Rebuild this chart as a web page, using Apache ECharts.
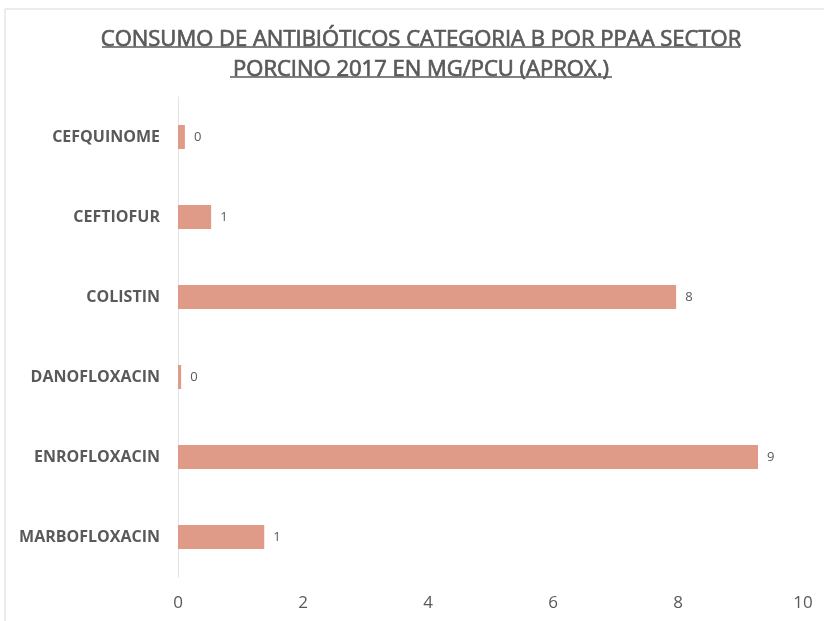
<!DOCTYPE html>
<html>
<head>
<meta charset="utf-8">
<script src="https://cdn.jsdelivr.net/npm/echarts@6/dist/echarts.min.js"></script>
<style>
  html, body { margin: 0; padding: 0; background: #fff; }
  #chart { width: 824px; height: 621px; }
</style>
</head>
<body>
<div id="chart"></div>
<script>
// datos (mg/PCU aprox.)
const categories = ["CEFQUINOME", "CEFTIOFUR", "COLISTIN", "DANOFLOXACIN", "ENROFLOXACIN", "MARBOFLOXACIN"];
const values = [0.11, 0.53, 7.97, 0.05, 9.28, 1.38];
const titleLines = ["CONSUMO DE ANTIBIÓTICOS CATEGORIA B POR PPAA SECTOR", "PORCINO 2017 EN MG/PCU (APROX.)"];

const font = "'Open Sans', sans-serif";
const grey = "#595959";

let chart = echarts.init(document.getElementById("chart"));
let option = {
  backgroundColor: "#fff",
  title: {
    text: titleLines.join("\n"),
    left: 416, // con textAlign center, es el centro del título
    top: 20,
    textAlign: "center",
    textStyle: {
      color: grey,
      fontFamily: font,
      fontSize: 22,
      fontWeight: "normal",
      lineHeight: 30,
      textBorderColor: grey,
      textBorderWidth: 0.7,
    },
  },
  graphic: [
    // marco del gráfico
    { type: "rect", shape: { x: 5, y: 9, width: 840, height: 640 }, style: { fill: "none", stroke: "#d9d9d9", lineWidth: 1 }, silent: true },
    // subrayado del título
    { type: "line", shape: { x1: 102, y1: 47, x2: 740, y2: 47 }, style: { stroke: grey, lineWidth: 1.5 }, silent: true },
    { type: "line", shape: { x1: 230, y1: 77, x2: 612, y2: 77 }, style: { stroke: grey, lineWidth: 1.5 }, silent: true },
  ],
  grid: { left: 178, right: 21, top: 97, bottom: 44 },
  xAxis: {
    type: "value",
    min: 0,
    max: 10,
    interval: 2,
    axisLine: { show: false },
    axisTick: { show: false },
    splitLine: { show: false },
    axisLabel: { color: grey, fontFamily: font, fontSize: 17, margin: 18 },
  },
  yAxis: {
    type: "category",
    inverse: true,
    data: categories,
    axisLine: { show: true, lineStyle: { color: "#e3e3e3", width: 1 } },
    axisTick: { show: false },
    axisLabel: { color: grey, fontFamily: font, fontSize: 16, fontWeight: "bold", margin: 18 },
  },
  series: [
    {
      type: "bar",
      data: values,
      barWidth: 24,
      itemStyle: { color: "#df9a88" },
      label: {
        show: true,
        position: "right",
        distance: 9,
        color: grey,
        fontFamily: font,
        fontSize: 13,
        formatter: function (p) {
          return Math.round(p.value);
        },
      },
    },
  ],
};
chart.setOption(option);
</script>
</body>
</html>
